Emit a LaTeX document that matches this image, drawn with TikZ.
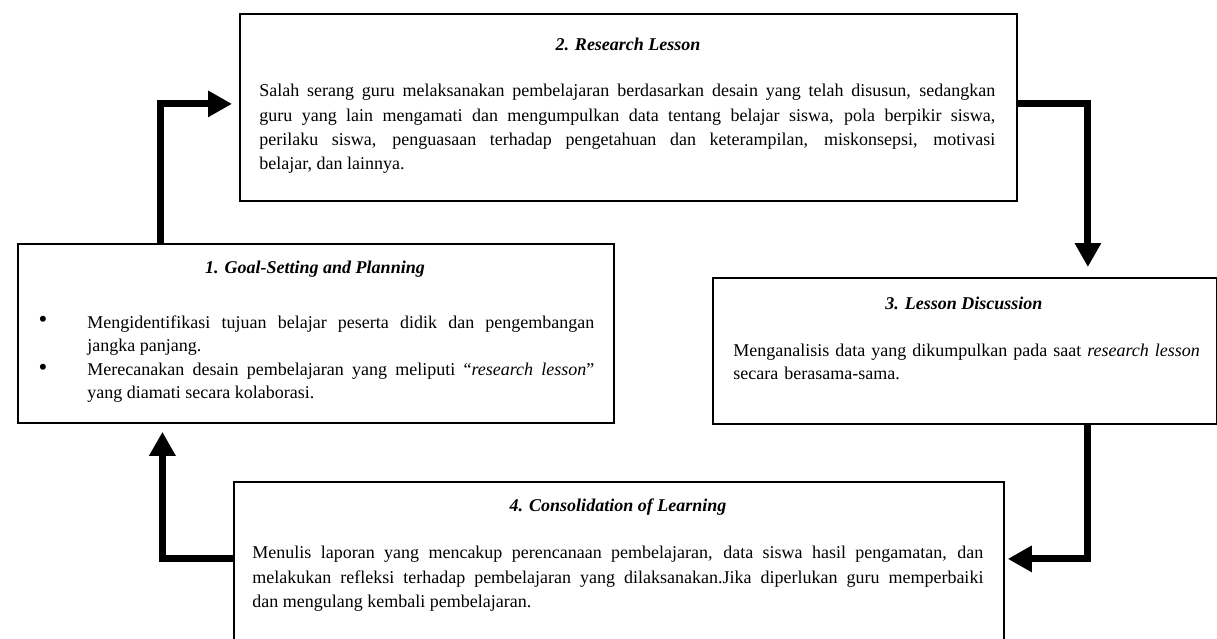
\documentclass[tikz,border=0pt]{standalone}
\usepackage{fontspec}
\setmainfont{Liberation Serif}
\usetikzlibrary{arrows.meta,positioning}

\tikzset{
  stage/.style={draw, line width=0.9pt, inner sep=0pt, anchor=north west},
  stagetitle/.style={inner sep=0pt, font=\fontsize{9}{11}\selectfont\bfseries\itshape},
  stagetext/.style={inner sep=0pt, anchor=north west, align=justify, font=\fontsize{9}{12.25}\selectfont},
  listtext/.style={stagetext, text width=253.5pt, font=\fontsize{9}{11.5}\selectfont},
  dotmark/.style={inner sep=0pt, anchor=base, font=\fontsize{12.5}{13}\selectfont},
  flow/.style={line width=3.5pt, -{Triangle[length=12pt,width=12.5pt]}},
}

\begin{document}
\begin{tikzpicture}[x=0.5pt,y=-0.5pt]
  \useasboundingbox (0,0) rectangle (1217,638);
  % kotak tahapan
  \node[stage, minimum width=298pt, minimum height=89.5pt] (goal) at (17,243) {};
  \node[stage, minimum width=388.5pt, minimum height=93.5pt] (research) at (239,13) {};
  \node[stage, minimum width=252pt, minimum height=73pt] (discussion) at (712,277) {};
  \node[stage, minimum width=385pt, minimum height=90pt] (consolidation) at (233,481) {};
  % judul
  \node[stagetitle] (goal-title) at (315,269) {1. Goal-Setting and Planning};
  \node[stagetitle] (research-title) at (628,44) {2. Research Lesson};
  \node[stagetitle] (discussion-title) at (964,303) {3. Lesson Discussion};
  \node[stagetitle] (consolidation-title) at (618,507) {4. Consolidation of Learning};
  % isi
  \node[stagetext, text width=368pt, font=\fontsize{9}{12.1}\selectfont] (research-text) at (259,84)
    {Salah serang guru melaksanakan pembelajaran berdasarkan desain yang telah disusun, sedangkan\linebreak
     guru yang lain mengamati dan mengumpulkan data tentang belajar siswa, pola berpikir siswa,\linebreak
     perilaku siswa, penguasaan terhadap pengetahuan dan keterampilan, miskonsepsi, motivasi\linebreak
     belajar, dan lainnya.};
  \node[dotmark] (goal-dot1) at (43,327) {\textbullet};
  \node[listtext] (goal-item1) at (87,315)
    {Mengidentifikasi tujuan belajar peserta didik dan pengembangan\linebreak jangka panjang.};
  \node[dotmark] (goal-dot2) at (43,375) {\textbullet};
  \node[listtext] (goal-item2) at (87,363)
    {Merecanakan desain pembelajaran yang meliputi “\textit{research lesson}”\linebreak yang diamati secara kolaborasi.};
  \node[stagetext, align=left, text width=240pt, font=\fontsize{9}{11.5}\selectfont] (discussion-text) at (733,344)
    {Menganalisis data yang dikumpulkan pada saat \textit{research lesson}\\ secara berasama-sama.};
  \node[stagetext, text width=365.5pt] (consolidation-text) at (252,546)
    {Menulis laporan yang mencakup perencanaan pembelajaran, data siswa hasil pengamatan, dan\linebreak
     melakukan refleksi terhadap pembelajaran yang dilaksanakan.Jika diperlukan guru memperbaiki\linebreak
     dan mengulang kembali pembelajaran.};
  % panah siklus
  \draw[flow, shorten >=3.5pt] ([xshift=-77.5pt]goal.north) |- ([yshift=1.75pt]research.west);
  \draw[flow, shorten >=5pt] ([yshift=1.75pt]research.east) -| ([xshift=61.5pt]discussion.north);
  \draw[flow, shorten >=1.5pt] ([xshift=61.25pt]discussion.south) |- ([yshift=6.5pt]consolidation.east);
  \draw[flow, shorten >=4pt] ([yshift=6.5pt]consolidation.west) -| ([xshift=-76.75pt]goal.south);
\end{tikzpicture}
\end{document}
